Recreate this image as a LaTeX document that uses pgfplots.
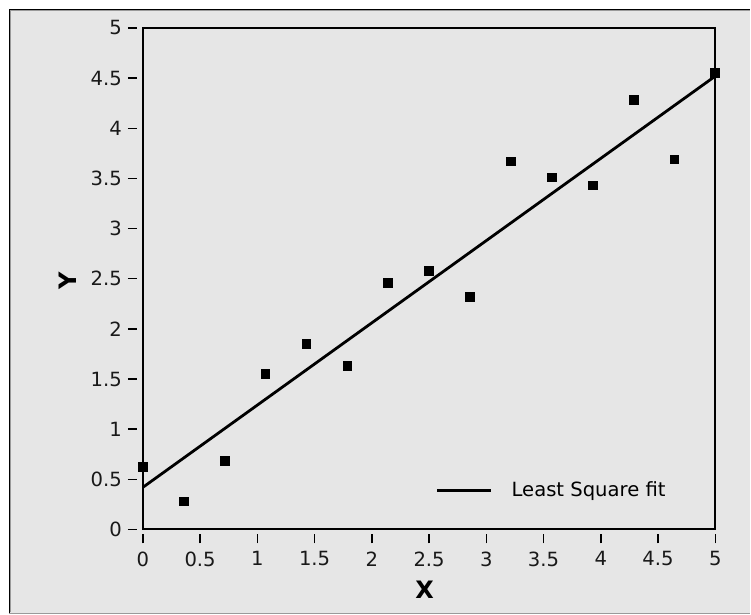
\documentclass[border=0pt]{standalone}
\usepackage{pgfplots}
\pgfplotsset{compat=1.18}
\usepackage{fontspec}
\setmainfont{DejaVu Sans}
\definecolor{bggray}{HTML}{E6E6E6}
\definecolor{edgegray}{HTML}{9A9A9A}
\begin{document}
\begin{tikzpicture}
% page background and panel
\fill[white] (-71.5pt,-42.5pt) rectangle (304pt,265pt);
\fill[bggray] (-67pt,-42pt) rectangle (304pt,260.5pt);
\draw[black,line width=0.5pt] (-66.75pt,-42pt) -- (-66.75pt,260.25pt) -- (304pt,260.25pt);
\draw[edgegray,line width=0.5pt] (-66.25pt,-41.5pt) -- (-66.25pt,259.75pt) -- (304pt,259.75pt);
\draw[edgegray,line width=0.75pt] (-67pt,-42.1pt) -- (304pt,-42.1pt);
\begin{axis}[
  at={(0,0)}, anchor=south west,
  scale only axis,
  width=286.5pt, height=251pt,
  xmin=0, xmax=5, ymin=0, ymax=5,
  xtick={0,0.5,...,5}, ytick={0,0.5,...,5},
  tick pos=left,
  axis line style={black,line width=1pt},
  tick align=outside,
  major tick length=4.5pt,
  every tick/.style={black,line width=0.75pt},
  xtick style={yshift=-2.5pt},
  ytick style={xshift=-3pt},
  /pgf/number format/assume math mode=true,
  ticklabel style={font=\fontsize{9.8}{12}\selectfont, text=black!90},
  xticklabel style={yshift=-3pt},
  yticklabel style={xshift=-2.5pt},
  xlabel={X}, ylabel={Y},
  every axis x label/.style={at={(axis description cs:0.492,0)}, anchor=center, yshift=-30pt, font=\bfseries\fontsize{12}{14}\selectfont},
  every axis y label/.style={at={(axis description cs:0,0.496)}, xshift=-37.5pt, rotate=90, anchor=center, font=\bfseries\fontsize{12}{14}\selectfont},
  legend style={draw=none, fill=none, at={(axis description cs:0.5113,0.0777)}, anchor=west, inner sep=0pt, font=\fontsize{9.8}{12}\selectfont,
    /tikz/every odd column/.append style={column sep=7.5pt}},
  legend cell align=left,
  legend image code/.code={\draw[#1] (0pt,0pt) -- (27pt,0pt);},
  clip=false,
]
\addplot[black, line width=1.4pt] coordinates {(0,0.42) (5,4.52)};
\addlegendentry{Least Square fit}
\addplot[only marks, mark=square*, mark size=2.2pt, black, forget plot] coordinates {
(0,0.62) (0.357,0.28) (0.714,0.68) (1.071,1.55) (1.429,1.85)
(1.786,1.63) (2.143,2.46) (2.5,2.58) (2.857,2.32) (3.214,3.67)
(3.571,3.51) (3.929,3.43) (4.286,4.28) (4.643,3.69) (5,4.55)
};
\end{axis}
\end{tikzpicture}
\end{document}
